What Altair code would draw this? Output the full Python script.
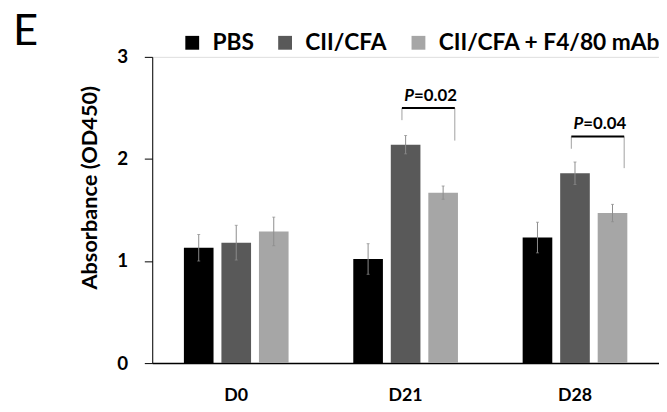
import altair as alt
import pandas as pd

days = ["D0", "D21", "D28"]
groups = ["PBS", "CII/CFA", "CII/CFA + F4/80 mAb"]
colors = ["#000000", "#595959", "#a6a6a6"]

pbs_mean = [1.13, 1.02, 1.23]
pbs_sem = [0.13, 0.15, 0.15]
cii_mean = [1.18, 2.14, 1.86]
cii_sem = [0.17, 0.09, 0.11]
f4_mean = [1.29, 1.67, 1.47]
f4_sem = [0.14, 0.065, 0.085]

# significance brackets (D21, D28)
sig_days = ["D21", "D28"]
sig_top = [2.50, 2.22]
sig_left_bottom = [2.38, 2.10]
sig_right_bottom = [2.18, 1.91]
sig_label_y = [2.57, 2.29]
sig_p = ["=0.02", "=0.04"]

rows = []
for i, d in enumerate(days):
    for g, m, s in zip(groups, [pbs_mean, cii_mean, f4_mean], [pbs_sem, cii_sem, f4_sem]):
        rows.append({"day": d, "group": g, "mean": m[i], "lo": m[i] - s[i], "hi": m[i] + s[i]})
df = pd.DataFrame(rows)

sig = pd.DataFrame({
    "day": sig_days, "top": sig_top, "lb": sig_left_bottom, "rb": sig_right_bottom,
    "ly": sig_label_y, "p": sig_p, "P": ["P", "P"],
})

FONT = "Lato"

x_scale = alt.Scale(domain=days, paddingInner=0.382, paddingOuter=0.187)
xo_scale = alt.Scale(domain=groups, paddingInner=0.21, paddingOuter=0)
y_scale = alt.Scale(domain=[0, 3], nice=False)

x_enc = alt.X("day:N", scale=x_scale, sort=days,
              axis=alt.Axis(title=None, labelAngle=0, labelFont=FONT, labelFontSize=18,
                            labelFontWeight="bold", labelColor="#000", ticks=False,
                            labelPadding=24, domainColor="#000", domainWidth=1.5))
y_enc = alt.Y("mean:Q", scale=y_scale,
              axis=alt.Axis(title="Absorbance (OD450)", values=[0, 1, 2, 3], format="d",
                            labelFont=FONT, labelFontSize=19, labelFontWeight="bold",
                            labelColor="#000", tickColor="#000", tickSize=8, labelPadding=17,
                            domainColor="#000", grid=False, titleFont=FONT, titleFontSize=22,
                            titleFontWeight="bold", titleColor="#000", titleAngle=270,
                            titleX=-56, titleY=132, titleAlign="center",
                            titleBaseline="alphabetic"))

base = alt.Chart(df)

bars = base.mark_bar(size=30).encode(
    x=x_enc,
    xOffset=alt.XOffset("group:N", scale=xo_scale, sort=groups),
    y=y_enc,
    color=alt.Color("group:N", scale=alt.Scale(domain=groups, range=colors), sort=groups,
                    legend=alt.Legend(title=None, orient="none", direction="horizontal",
                                      legendX=29, legendY=-26, symbolType="square",
                                      symbolSize=196, symbolStrokeWidth=0, symbolOpacity=1,
                                      labelFont=FONT, labelFontSize=23, labelFontWeight="bold",
                                      labelColor="#000", labelOffset=9, columnPadding=20,
                                      labelLimit=0, padding=0)),
)

err = base.mark_rule(color="#8c8c8c", strokeWidth=1).encode(
    x=alt.X("day:N", scale=x_scale, sort=days),
    xOffset=alt.XOffset("group:N", scale=xo_scale, sort=groups),
    y=alt.Y("lo:Q", scale=y_scale),
    y2="hi:Q",
)
caps = base.mark_tick(color="#8c8c8c", size=3, thickness=1).encode(
    x=alt.X("day:N", scale=x_scale, sort=days),
    xOffset=alt.XOffset("group:N", scale=xo_scale, sort=groups),
    y=alt.Y("hi:Q", scale=y_scale),
)
caps_lo = base.mark_tick(color="#8c8c8c", size=3, thickness=1).encode(
    x=alt.X("day:N", scale=x_scale, sort=days),
    xOffset=alt.XOffset("group:N", scale=xo_scale, sort=groups),
    y=alt.Y("lo:Q", scale=y_scale),
)

sb = alt.Chart(sig)
left_leg = sb.mark_rule(color="#a0a0a0", strokeWidth=1).encode(
    x=alt.X("day:N", scale=x_scale, sort=days, bandPosition=0.465),
    y=alt.Y("lb:Q", scale=y_scale), y2="top:Q")
right_leg = sb.mark_rule(color="#a0a0a0", strokeWidth=1).encode(
    x=alt.X("day:N", scale=x_scale, sort=days, bandPosition=0.97),
    y=alt.Y("rb:Q", scale=y_scale), y2="top:Q")
top_line = sb.mark_rule(color="#000", strokeWidth=2).encode(
    x=alt.X("day:N", scale=x_scale, sort=days, bandPosition=0.465),
    x2=alt.X2("day:N", bandPosition=0.97),
    y=alt.Y("top:Q", scale=y_scale))
p_txt = sb.mark_text(font=FONT, fontSize=17, fontWeight="bold", fontStyle="italic",
                     align="right", baseline="alphabetic", color="#000").encode(
    x=alt.X("day:N", scale=x_scale, sort=days, bandPosition=0.58),
    y=alt.Y("ly:Q", scale=y_scale), text="P:N")
v_txt = sb.mark_text(font=FONT, fontSize=17, fontWeight="bold",
                     align="left", baseline="alphabetic", color="#000").encode(
    x=alt.X("day:N", scale=x_scale, sort=days, bandPosition=0.58),
    y=alt.Y("ly:Q", scale=y_scale), text="p:N")

panel_label = alt.Chart(pd.DataFrame({"t": ["E"]})).mark_text(
    font=FONT, fontSize=44, align="left", baseline="alphabetic", color="#000"
).encode(x=alt.value(-141), y=alt.value(-12), text="t:N")

chart = alt.layer(bars, err, caps, caps_lo, left_leg, right_leg, top_line, p_txt, v_txt,
                  panel_label).properties(
    width=513, height=310,
    autosize=alt.AutoSizeParams(type="none"),
    padding={"left": 146, "top": 47, "right": 0, "bottom": 45},
).configure_view(stroke=None).configure(background="white")

chart.save("out.html", embed_options={"renderer": "svg", "actions": False})
